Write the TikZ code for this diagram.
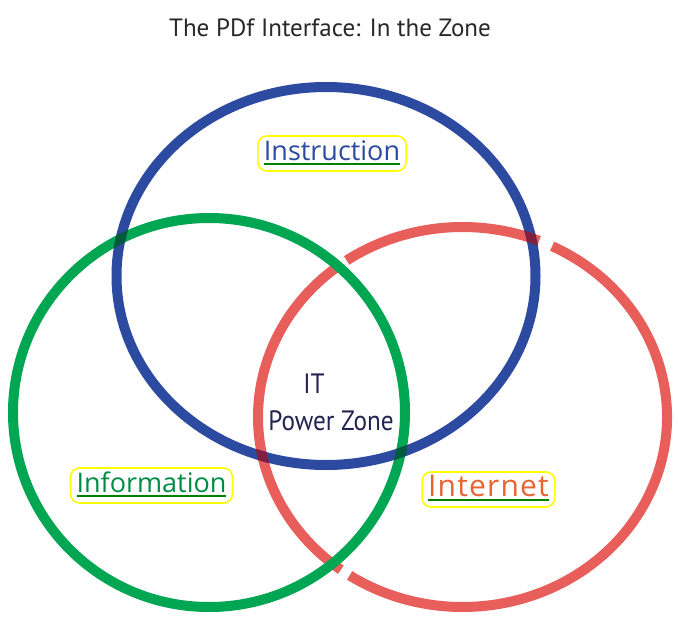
\documentclass[tikz,border=0pt]{standalone}
\usepackage{fontspec}
\setmainfont{PT Sans}
\newfontfamily\zonefont[FakeStretch=0.9]{PT Sans}
\newfontfamily\tagfont{Open Sans}
\definecolor{instrblue}{RGB}{44,74,160}
\definecolor{infogreen}{RGB}{0,166,81}
\definecolor{inetred}{RGB}{232,94,90}
\definecolor{darkred}{RGB}{128,32,64}
\definecolor{darkgreen}{RGB}{0,90,60}
\definecolor{tagyellow}{RGB}{255,255,0}
\definecolor{ulgreen}{RGB}{0,130,0}
\definecolor{infotext}{RGB}{0,140,70}
\definecolor{inettext}{RGB}{232,100,50}
\definecolor{zonenavy}{RGB}{35,35,80}
\definecolor{titlegrey}{RGB}{40,40,40}
\newcommand{\tagtext}[2]{\setbox0\hbox{#2}\rlap{\textcolor{ulgreen}{\rule[-4pt]{\wd0}{2pt}}}\textcolor{#1}{\box0}}
\tikzset{
  ring/.style={line width=10pt},
  tagbox/.style={draw=tagyellow, line width=1.6pt, rounded corners=9pt,
    inner xsep=6pt, inner ysep=4.5pt, text height=20pt, text depth=6pt,
    font=\tagfont\fontsize{27}{30}\selectfont}
}

\begin{document}
\begin{tikzpicture}[x=1pt,y=-1pt]
                \useasboundingbox (0,0) rectangle (678,635);
                % Internet ring, drawn in pieces
                \draw[ring, inetred] (462.5,417) ++(-64:204.5 and 190) arc[start angle=-64, end angle=123.5, x radius=204.5, y radius=190];
                \draw[ring, inetred] (462.5,417) ++(126.5:204.5 and 190) arc[start angle=126.5, end angle=232.5, x radius=204.5, y radius=190];
                \draw[ring, inetred] (462.5,417) ++(235.5:204.5 and 190) arc[start angle=235.5, end angle=292, x radius=204.5, y radius=190];
                \draw[ring, infogreen] (209,412.5) ellipse [x radius=196, y radius=194.5];
                \draw[ring, instrblue] (326,276) ellipse [x radius=209.5, y radius=189];
                % overlaps on the Instruction ring
                \begin{scope}
                    \clip (326,276) ++(0:214.5 and 194) arc[start angle=0, end angle=360, x radius=214.5, y radius=194]
                          -- ++(-10,0) arc[start angle=360, end angle=0, x radius=204.5, y radius=184] -- cycle;
                    \draw[ring, darkred] (462.5,417) ellipse [x radius=204.5, y radius=190];
                    \draw[ring, darkgreen] (209,412.5) ellipse [x radius=196, y radius=194.5];
                \end{scope}
                \node[titlegrey, font=\fontsize{25}{28}\selectfont] (title) at (330,28) {The PDf Interface: In the Zone};
                \node[tagbox] (instr) at (332,153.5) {\tagtext{instrblue}{Instruction}};
                \node[tagbox] (info) at (151.5,485.5) {\tagtext{infotext}{Information}};
                \node[tagbox, font=\tagfont\fontsize{30}{32}\selectfont\addfontfeature{LetterSpace=4}] (inet) at (488.5,489.5) {\tagtext{inettext}{Internet}};
                \node[zonenavy, align=left, font=\zonefont\fontsize{28}{37}\selectfont] (zone) at (331,402) {\hspace*{35pt}IT\\Power Zone};
            \end{tikzpicture}
\end{document}
